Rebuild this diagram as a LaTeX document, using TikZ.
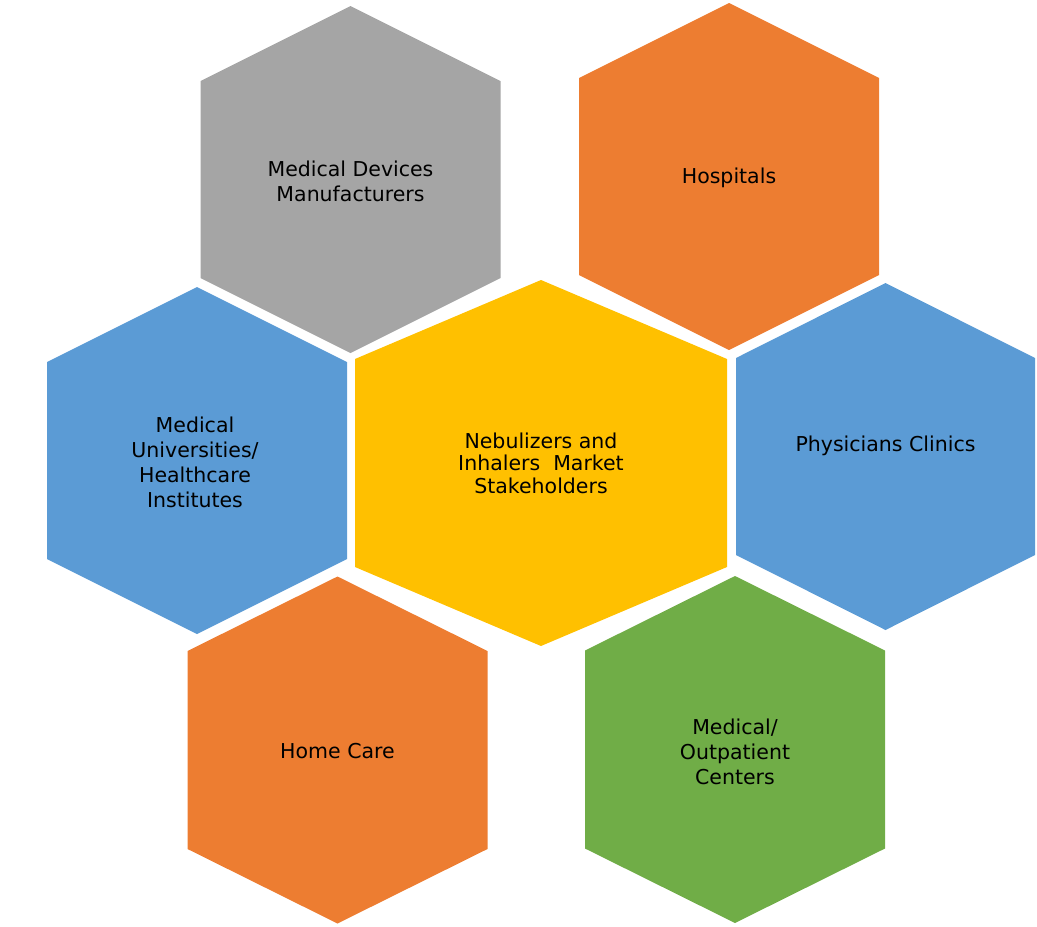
\documentclass[tikz,border=0pt]{standalone}
\usepackage{fontspec}
\setmainfont{DejaVu Sans}
\definecolor{hgray}{HTML}{A5A5A5}
\definecolor{horange}{HTML}{ED7D31}
\definecolor{hyellow}{HTML}{FFC000}
\definecolor{hblue}{HTML}{5B9BD5}
\definecolor{hgreen}{HTML}{70AD47}
\newcommand\drawhex[6]{%
  \fill[#6] ({#1},{#2-#4}) -- ({#1+#3},{#2-#5}) -- ({#1+#3},{#2+#5}) --
    ({#1},{#2+#4}) -- ({#1-#3},{#2+#5}) -- ({#1-#3},{#2-#5}) -- cycle;}
\begin{document}
\begin{tikzpicture}[x=1pt,y=-1pt,
  lbl/.style={align=center,text=black,inner sep=0pt,
    font=\fontsize{20.5}{25}\selectfont},
  clbl/.style={lbl,font=\fontsize{20.5}{22.5}\selectfont}]
\useasboundingbox (0,0) rectangle (1037,927);
% outer hexagons
\drawhex{350.5}{179.5}{150}{173.5}{98.5}{hgray}
\drawhex{729}{176.5}{150}{173.5}{98.5}{horange}
\drawhex{197}{460.5}{150}{173.5}{98.5}{hblue}
\drawhex{885.5}{456.5}{149.5}{173.5}{98.5}{hblue}
\drawhex{337.5}{750}{150}{173.5}{99}{horange}
\drawhex{735}{749.5}{150}{173.5}{99}{hgreen}
% centre hexagon
\drawhex{541}{463}{186}{183}{104}{hyellow}
% labels
\node[lbl] (mdm) at (350.5,181) {Medical Devices\\Manufacturers};
\node[lbl] (hosp) at (729,178) {Hospitals};
\node[lbl] (univ) at (195,462) {Medical\\Universities/\\Healthcare\\Institutes};
\node[lbl] (phys) at (885.5,446) {Physicians Clinics};
\node[clbl] (ctr) at (541,463) {Nebulizers and\\Inhalers\ \ Market\\Stakeholders};
\node[lbl] (home) at (337.5,751) {Home Care};
\node[lbl] (outp) at (735,752) {Medical/\\Outpatient\\Centers};
\end{tikzpicture}
\end{document}
